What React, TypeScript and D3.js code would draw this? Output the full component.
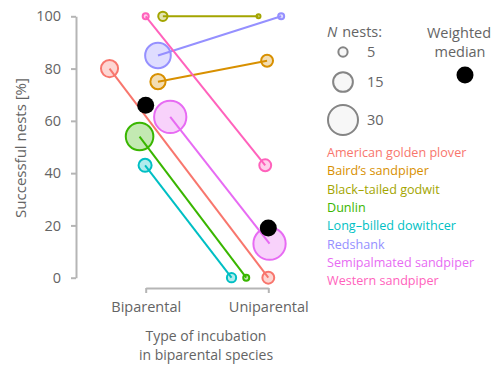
import React, { useEffect, useRef } from "react";
import * as d3 from "d3";

// species and their colours (ggplot hue palette)
const species = [
  "American golden plover",
  "Baird\u2019s sandpiper",
  "Black\u2013tailed godwit",
  "Dunlin",
  "Long\u2013billed dowithcer",
  "Redshank",
  "Semipalmated sandpiper",
  "Western sandpiper",
];
const colors = ["#F8766D", "#D89000", "#A3A500", "#39B600", "#00BFC4", "#9590FF", "#E76BF3", "#FF62BC"];

// % successful nests
const biValue = [80, 75, 100, 54, 43, 85, 61.5, 100];
const uniValue = [0, 83, 100, 0, 0, 100, 13, 43];
// number of nests
const biNests = [12, 10, 5, 26, 8, 23, 34, 3];
const uniNests = [7, 7, 2, 3, 5, 3, 34, 7];
// jittered horizontal position (1 = biparental, 2 = uniparental)
const biJitter = [0.705, 1.1, 1.14, 0.95, 0.995, 1.1, 1.2, 1.0];
const uniJitter = [2.0, 1.99, 1.92, 1.82, 1.7, 2.105, 2.01, 1.975];

const medianValue = [66, 19];
const medianJitter = [1.0, 2.0];

const yTicks = [0, 20, 40, 60, 80, 100];
const xTicks = [1, 2];
const xLabels = ["Biparental", "Uniparental"];
const sizeLegend = [5, 15, 30];

const FONT = "'Open Sans', sans-serif";
const TEXT = "#646464";
const AXIS = "#b5b5b5";

export default function App() {
  const ref = useRef<SVGSVGElement>(null);

  useEffect(() => {
    const svg = d3.select(ref.current);
    svg.selectAll("*").remove();

    const width = 493;
    const height = 367;
    svg.attr("width", width).attr("height", height);

    const y = d3.scaleLinear().domain([0, 100]).range([277.7, 16.3]);
    const x = d3.scaleLinear().domain([1, 2]).range([145.7, 268.3]);
    const r = d3.scaleSqrt().domain([2, 30]).range([2, 15]);

    // Axes
    const yAxis = svg.append("g")
      .attr("transform", "translate(76,0)")
      .call(d3.axisLeft(y).tickValues(yTicks).tickSize(5).tickSizeOuter(0).tickPadding(10));
    yAxis.selectAll("path, line").attr("stroke", AXIS).attr("stroke-width", 2);
    yAxis.selectAll("text").attr("fill", TEXT).style("font-family", FONT).style("font-size", "14.5px");

    const xAxis = svg.append("g")
      .attr("transform", "translate(0,288)")
      .call(d3.axisBottom(x).tickValues(xTicks).tickFormat((d, i) => xLabels[i]).tickSize(5).tickSizeOuter(0).tickPadding(9));
    xAxis.selectAll("path, line").attr("stroke", AXIS).attr("stroke-width", 2);
    xAxis.selectAll("text").attr("fill", TEXT).style("font-family", FONT).style("font-size", "14.5px");

    // Axis titles
    svg.append("text")
      .attr("transform", "translate(26,148) rotate(-90)")
      .attr("text-anchor", "middle")
      .attr("fill", TEXT)
      .style("font-family", FONT)
      .style("font-size", "15px")
      .text("Successful nests [%]");

    const xTitle = svg.append("text")
      .attr("text-anchor", "middle")
      .attr("fill", TEXT)
      .style("font-family", FONT)
      .style("font-size", "14px");
    xTitle.append("tspan").attr("x", 206).attr("y", 341).text("Type of incubation");
    xTitle.append("tspan").attr("x", 206).attr("y", 360).text("in biparental species");

    // Connecting lines
    const idx = d3.range(species.length);
    svg.append("g").selectAll("line")
      .data(idx)
      .join("line")
      .attr("x1", i => x(biJitter[i]))
      .attr("y1", i => y(biValue[i]))
      .attr("x2", i => x(uniJitter[i]))
      .attr("y2", i => y(uniValue[i]))
      .attr("stroke", i => colors[i])
      .attr("stroke-width", 2);

    // Points
    const pts = idx.flatMap(i => [
      { i, pos: biJitter[i], v: biValue[i], n: biNests[i] },
      { i, pos: uniJitter[i], v: uniValue[i], n: uniNests[i] },
    ]);
    svg.append("g").selectAll("circle")
      .data(pts)
      .join("circle")
      .attr("cx", d => x(d.pos))
      .attr("cy", d => y(d.v))
      .attr("r", d => r(d.n))
      .attr("fill", d => {
        const c = d3.color(colors[d.i])!;
        c.opacity = 0.3;
        return c.toString();
      })
      .attr("stroke", d => colors[d.i])
      .attr("stroke-width", 2);

    // Weighted medians
    svg.append("g").selectAll("circle")
      .data(medianValue)
      .join("circle")
      .attr("cx", (d, i) => x(medianJitter[i]))
      .attr("cy", d => y(d))
      .attr("r", 8.5)
      .attr("fill", "black");

    // Size legend
    const nTitle = svg.append("text")
      .attr("x", 327)
      .attr("y", 37)
      .attr("fill", TEXT)
      .style("font-family", FONT)
      .style("font-size", "14.5px");
    nTitle.append("tspan").style("font-style", "italic").text("N");
    nTitle.append("tspan").attr("dx", 5).text("nests:");

    const legendY = [52, 82, 120];
    const sl = svg.append("g");
    sl.selectAll("circle")
      .data(sizeLegend)
      .join("circle")
      .attr("cx", 343)
      .attr("cy", (d, i) => legendY[i])
      .attr("r", d => r(d))
      .attr("fill", "#f7f7f7")
      .attr("stroke", "#858585")
      .attr("stroke-width", 2);
    sl.selectAll("text")
      .data(sizeLegend)
      .join("text")
      .attr("x", 367)
      .attr("y", (d, i) => legendY[i])
      .attr("dy", "0.35em")
      .attr("fill", TEXT)
      .style("font-family", FONT)
      .style("font-size", "14.5px")
      .text(d => d);

    // Median legend
    const mTitle = svg.append("text")
      .attr("text-anchor", "middle")
      .attr("fill", TEXT)
      .style("font-family", FONT)
      .style("font-size", "14.5px");
    mTitle.append("tspan").attr("x", 459).attr("y", 38).text("Weighted");
    mTitle.append("tspan").attr("x", 460).attr("y", 57).text("median");
    svg.append("circle").attr("cx", 465).attr("cy", 75).attr("r", 8.5).attr("fill", "black");

    // Species legend
    svg.append("g").selectAll("text")
      .data(species)
      .join("text")
      .attr("x", 327)
      .attr("y", (d, i) => 157 + i * 18.3)
      .attr("fill", (d, i) => colors[i])
      .style("font-family", FONT)
      .style("font-size", "12.6px")
      .text(d => d);
  }, []);

  return <svg ref={ref} style={{ position: "absolute", left: 0, top: 0 }}></svg>;
}
